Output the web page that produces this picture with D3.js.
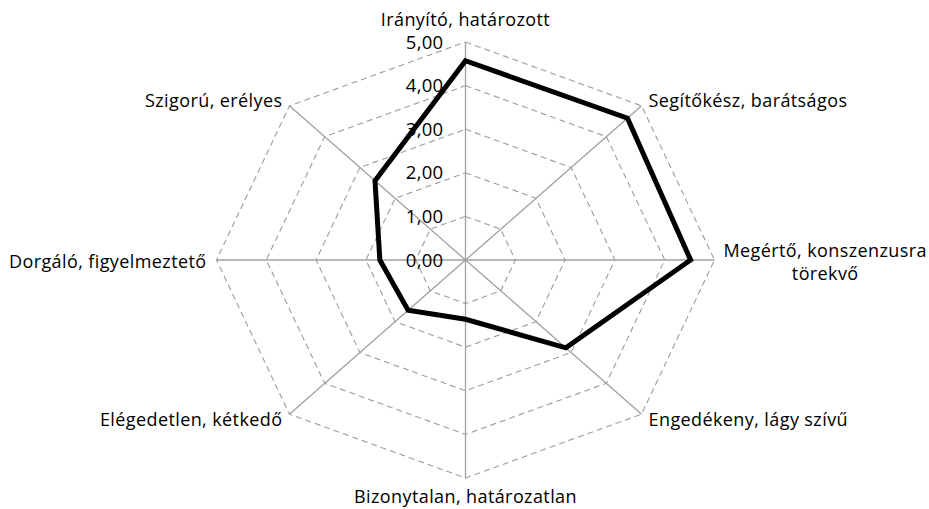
<!DOCTYPE html>
<html>
<head>
<meta charset="utf-8">
<script src="https://cdn.jsdelivr.net/npm/d3@7"></script>
<style>
  html, body { margin: 0; padding: 0; background: #fff; }
  svg { display: block; }
  text { font-family: "Open Sans", "Liberation Sans", sans-serif; fill: #000; }
</style>
</head>
<body>
<svg id="chart" width="929" height="509"></svg>
<script>
/* ── Data ───────────────────────────────────────────────────────── */
const categories = [
  'Irányító, határozott',
  'Segítőkész, barátságos',
  'Megértő, konszenzusra\ntörekvő',
  'Engedékeny, lágy szívű',
  'Bizonytalan, határozatlan',
  'Elégedetlen, kétkedő',
  'Dorgáló, figyelmeztető',
  'Szigorú, erélyes'
];
const values     = [4.57, 4.60, 4.52, 2.85, 1.36, 1.63, 1.72, 2.57];
const tickVals   = [0, 1, 2, 3, 4, 5];
const tickLabels = ['0,00', '1,00', '2,00', '3,00', '4,00', '5,00'];

/* ── Layout ─────────────────────────────────────────────────────── */
const CX = 465.5, CY = 260;
const RX = 249, RY = 218;      // chart is slightly stretched horizontally
const FONT_PX = 18;

const rx = d3.scaleLinear().domain([0, 5]).range([0, RX]);
const ry = d3.scaleLinear().domain([0, 5]).range([0, RY]);
const n = categories.length;
const ang = i => -Math.PI / 2 + i * 2 * Math.PI / n;
const px = (i, v) => CX + Math.cos(ang(i)) * rx(v);
const py = (i, v) => CY + Math.sin(ang(i)) * ry(v);

const svg = d3.select('#chart');
const g = svg.append('g');

/* grid rings (dashed) */
tickVals.filter(t => t > 0).forEach(t => {
  const pts = d3.range(n).map(i => [px(i, t), py(i, t)]);
  g.append('path')
    .attr('d', d3.line()(pts) + 'Z')
    .attr('fill', 'none')
    .attr('stroke', '#9c9c9c')
    .attr('stroke-width', 1.1)
    .attr('stroke-dasharray', '6,4');
});

/* spokes */
g.selectAll('.spoke')
  .data(d3.range(n))
  .join('line')
  .attr('class', 'spoke')
  .attr('x1', CX).attr('y1', CY)
  .attr('x2', i => px(i, 5)).attr('y2', i => py(i, 5))
  .attr('stroke', '#a0a0a0')
  .attr('stroke-width', 1.3);

/* data line */
const dataPts = values.map((v, i) => [px(i, v), py(i, v)]);
g.append('path')
  .attr('d', d3.line()(dataPts) + 'Z')
  .attr('fill', 'none')
  .attr('stroke', '#000')
  .attr('stroke-width', 5)
  .attr('stroke-linejoin', 'miter');

/* tick labels */
g.selectAll('.tick')
  .data(tickVals)
  .join('text')
  .attr('class', 'tick')
  .attr('x', CX - 22)
  .attr('y', t => CY - ry(t))
  .attr('dy', '0.36em')
  .attr('text-anchor', 'end')
  .attr('font-size', FONT_PX + 0.5)
  .attr('letter-spacing', 0.3)
  .text((t, i) => tickLabels[i]);

/* category labels: placement relative to the outer spoke end */
function labelPos(i) {
  const a = ang(i), c = Math.cos(a), s = Math.sin(a);
  const x0 = px(i, 5), y0 = py(i, 5);
  if (s < -0.9) return { x: x0, y: y0 - 16, anchor: 'middle' };
  if (s > 0.9)  return { x: x0, y: y0 + 25, anchor: 'middle' };
  const anchor = c > 0 ? 'start' : 'end';
  const gx = c > 0 ? 7 : -7;
  if (s < -0.2) return { x: x0 + gx, y: y0 + 1, anchor };
  if (s > 0.2)  return { x: x0 + gx, y: y0 + 12, anchor };
  return { x: x0 + (c > 0 ? 9 : -10), y: y0 + (c > 0 ? -3 : 8), anchor };
}

categories.forEach((name, i) => {
  const p = labelPos(i);
  const lines = name.split('\n');
  const t = g.append('text')
    .attr('font-size', FONT_PX)
    .attr('letter-spacing', 0.4)
    .attr('text-anchor', p.anchor)
    .attr('x', p.x)
    .attr('y', p.y)
    .text(lines[0]);
  if (lines.length > 1) {
    // second line centred under the first
    const w = t.node().getComputedTextLength();
    g.append('text')
      .attr('font-size', FONT_PX)
      .attr('letter-spacing', 0.4)
      .attr('text-anchor', 'middle')
      .attr('x', p.x + w / 2)
      .attr('y', p.y + 23)
      .text(lines[1]);
  }
});
</script>
</body>
</html>
